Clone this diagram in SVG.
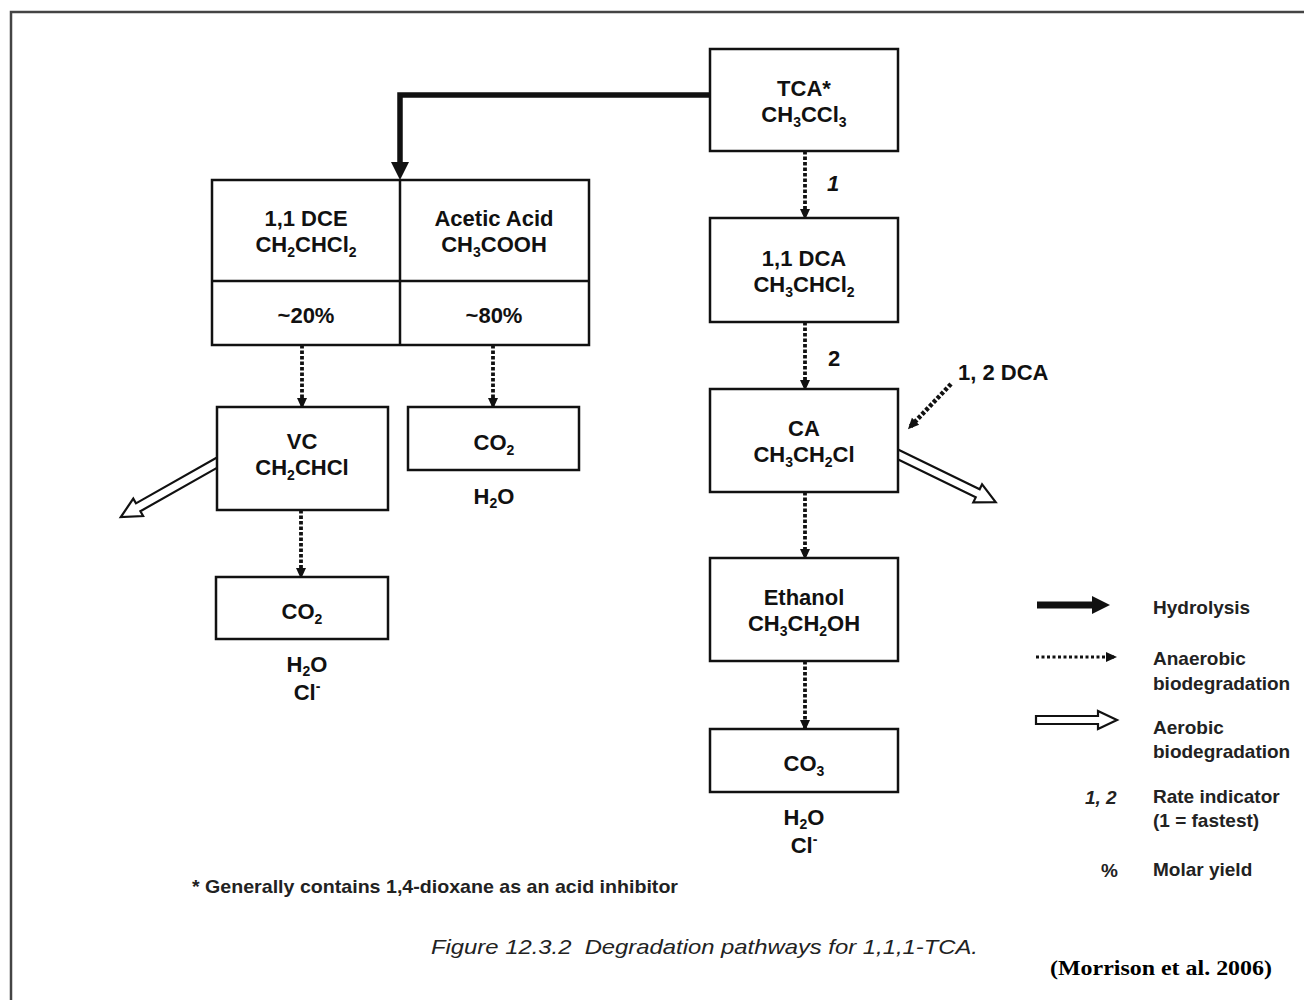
<svg xmlns="http://www.w3.org/2000/svg" width="1304" height="1000" viewBox="0 0 1304 1000">
<style>
.box{fill:#fff;stroke:#111;stroke-width:2.5}
.t{font-family:"Liberation Sans",Arial,sans-serif;font-weight:bold;font-size:22px;fill:#111;text-anchor:middle}
.s{font-size:14px}
.lg{font-family:"Liberation Sans",Arial,sans-serif;font-weight:bold;font-size:19px;fill:#222}
.dot{fill:none;stroke:#111;stroke-width:3.8;stroke-dasharray:3.5 2;marker-end:url(#dh)}
.hyd{fill:none;stroke:#111;stroke-width:5.5;marker-end:url(#hh)}
.aer{fill:#fff;stroke:#111;stroke-width:2.2;stroke-linejoin:miter}
</style>
<defs>
<marker id="dh" markerUnits="userSpaceOnUse" markerWidth="12" markerHeight="12" refX="8" refY="6" orient="auto">
<path d="M0,1 L11,6 L0,11 z" fill="#111"/>
</marker>
<marker id="hh" markerUnits="userSpaceOnUse" markerWidth="20" markerHeight="20" refX="8" refY="10" orient="auto">
<path d="M0,1 L18,10 L0,19 z" fill="#111"/>
</marker>
</defs>
<rect width="1304" height="1000" fill="#fff"/>
<path d="M11,1000 V12 H1304" fill="none" stroke="#444" stroke-width="2.5"/>

<g id="connectors">
<path class="hyd" d="M710,95 H400 V170"/>
<path class="dot" d="M805,151 V217"/>
<path class="dot" d="M805,322 V388"/>
<path class="dot" d="M805,492 V557"/>
<path class="dot" d="M805,661 V728"/>
<path class="dot" d="M302,345 V406"/>
<path class="dot" d="M493,345 V406"/>
<path class="dot" d="M301,510 V576"/>
<path class="dot" d="M951,384 L910,427" style="stroke-width:4.5"/>
<polygon class="aer" transform="translate(220,461) rotate(150.5)" points="0,-4.5 94,-4.5 94,-10 114,0 94,10 94,4.5 0,4.5"/>
<polygon class="aer" transform="translate(895,453) rotate(26)" points="0,-4.5 92,-4.5 92,-10 112,0 92,10 92,4.5 0,4.5"/>
</g>

<g id="tca">
<rect class="box" x="710" y="49" width="188" height="102"/>
<text class="t" x="804" y="96">TCA*</text>
<text class="t" x="804" y="122">CH<tspan class="s" dy="5">3</tspan><tspan dy="-5">CCl</tspan><tspan class="s" dy="5">3</tspan></text>
</g>
<g id="dce-acetic">
<rect class="box" x="212" y="180" width="377" height="165"/>
<line x1="400" y1="180" x2="400" y2="345" stroke="#111" stroke-width="2.5"/>
<line x1="212" y1="281" x2="589" y2="281" stroke="#111" stroke-width="2.5"/>
<text class="t" x="306" y="226">1,1 DCE</text>
<text class="t" x="306" y="252">CH<tspan class="s" dy="5">2</tspan><tspan dy="-5">CHCl</tspan><tspan class="s" dy="5">2</tspan></text>
<text class="t" x="494" y="226">Acetic Acid</text>
<text class="t" x="494" y="252">CH<tspan class="s" dy="5">3</tspan><tspan dy="-5">COOH</tspan></text>
<text class="t" x="306" y="323">~20%</text>
<text class="t" x="494" y="323">~80%</text>
</g>
<g id="dca11">
<rect class="box" x="710" y="218" width="188" height="104"/>
<text class="t" x="804" y="266">1,1 DCA</text>
<text class="t" x="804" y="292">CH<tspan class="s" dy="5">3</tspan><tspan dy="-5">CHCl</tspan><tspan class="s" dy="5">2</tspan></text>
</g>
<g id="vc">
<rect class="box" x="217" y="407" width="171" height="103"/>
<text class="t" x="302" y="449">VC</text>
<text class="t" x="302" y="475">CH<tspan class="s" dy="5">2</tspan><tspan dy="-5">CHCl</tspan></text>
</g>
<g id="co2-acetic">
<rect class="box" x="408" y="407" width="171" height="63"/>
<text class="t" x="494" y="450">CO<tspan class="s" dy="5">2</tspan></text>
<text class="t" x="494" y="504">H<tspan class="s" dy="4">2</tspan><tspan dy="-4">O</tspan></text>
</g>
<g id="co2-vc">
<rect class="box" x="216" y="577" width="172" height="62"/>
<text class="t" x="302" y="619">CO<tspan class="s" dy="5">2</tspan></text>
<text class="t" x="307" y="672">H<tspan class="s" dy="4">2</tspan><tspan dy="-4">O</tspan></text>
<text class="t" x="307" y="700">Cl<tspan class="s" dy="-9">-</tspan></text>
</g>
<g id="ca">
<rect class="box" x="710" y="389" width="188" height="103"/>
<text class="t" x="804" y="436">CA</text>
<text class="t" x="804" y="462">CH<tspan class="s" dy="5">3</tspan><tspan dy="-5">CH</tspan><tspan class="s" dy="5">2</tspan><tspan dy="-5">Cl</tspan></text>
</g>
<g id="ethanol">
<rect class="box" x="710" y="558" width="188" height="103"/>
<text class="t" x="804" y="605">Ethanol</text>
<text class="t" x="804" y="631">CH<tspan class="s" dy="5">3</tspan><tspan dy="-5">CH</tspan><tspan class="s" dy="5">2</tspan><tspan dy="-5">OH</tspan></text>
</g>
<g id="co3">
<rect class="box" x="710" y="729" width="188" height="63"/>
<text class="t" x="804" y="771">CO<tspan class="s" dy="5">3</tspan></text>
<text class="t" x="804" y="825">H<tspan class="s" dy="4">2</tspan><tspan dy="-4">O</tspan></text>
<text class="t" x="804" y="853">Cl<tspan class="s" dy="-9">-</tspan></text>
</g>
<g id="labels">
<text class="t" x="833" y="191" font-style="italic" font-size="20">1</text>
<text class="t" x="834" y="366" font-size="20">2</text>
<text class="t" x="958" y="380" style="text-anchor:start" font-size="21">1, 2 DCA</text>
</g>

<g id="legend">
<path class="hyd" d="M1037,605 H1100" style="stroke-width:7"/>
<path class="dot" d="M1036,657 H1114" style="stroke-width:3.2;stroke-dasharray:3 2.5"/>
<polygon class="aer" points="1036,716 1098,716 1098,711 1117,720 1098,729 1098,724 1036,724"/>
<text class="lg" x="1153" y="614">Hydrolysis</text>
<text class="lg" x="1153" y="665">Anaerobic</text>
<text class="lg" x="1153" y="690">biodegradation</text>
<text class="lg" x="1153" y="734">Aerobic</text>
<text class="lg" x="1153" y="758">biodegradation</text>
<text class="lg" x="1085" y="804" font-style="italic">1, 2</text>
<text class="lg" x="1153" y="803">Rate indicator</text>
<text class="lg" x="1153" y="827">(1 = fastest)</text>
<text class="lg" x="1101" y="877">%</text>
<text class="lg" x="1153" y="876">Molar yield</text>
</g>

<text class="lg" x="192" y="893" font-size="18" textLength="486" lengthAdjust="spacingAndGlyphs">* Generally contains 1,4-dioxane as an acid inhibitor</text>
<text x="431" y="954" xml:space="preserve" font-family="Liberation Sans,Arial,sans-serif" font-style="italic" font-size="21" fill="#222" textLength="547" lengthAdjust="spacingAndGlyphs">Figure 12.3.2  Degradation pathways for 1,1,1-TCA.</text>
<text x="1050" y="975" font-family="Liberation Serif,Times New Roman,serif" font-weight="bold" font-size="21" fill="#000" textLength="222" lengthAdjust="spacingAndGlyphs">(Morrison et al. 2006)</text>
</svg>
